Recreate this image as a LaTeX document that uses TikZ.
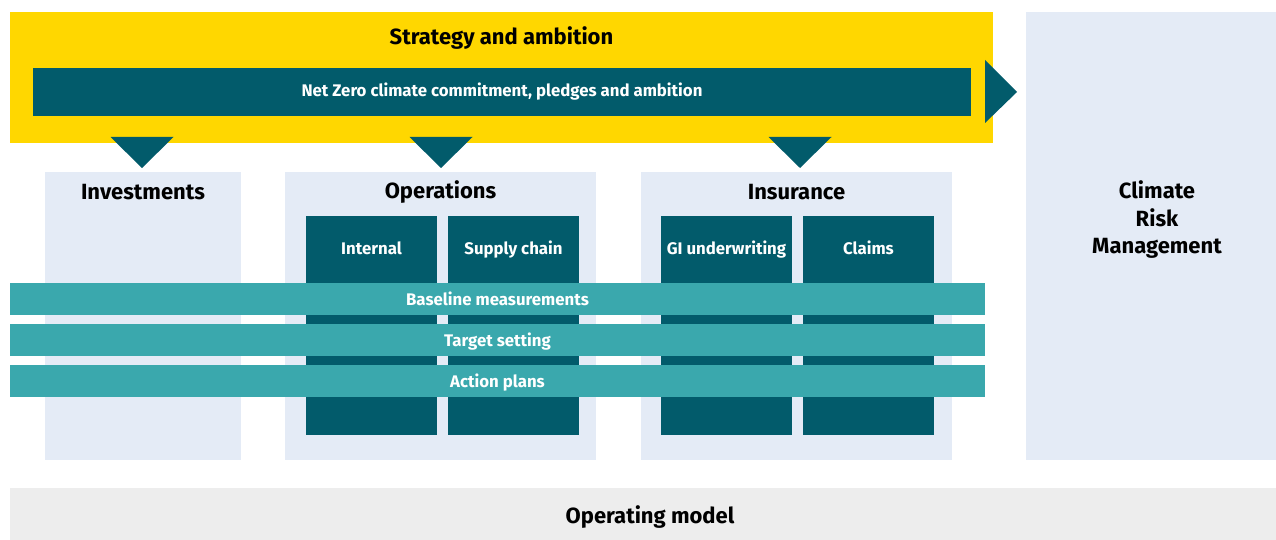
\documentclass[tikz,border=0pt]{standalone}
\usepackage{fontspec}
\setmainfont{Fira Sans}
\usetikzlibrary{positioning, calc}

\definecolor{ambition}{RGB}{255,215,0}
\definecolor{petrol}{RGB}{2,91,107}
\definecolor{lagoon}{RGB}{58,168,173}
\definecolor{mist}{RGB}{228,235,246}
\definecolor{floor}{RGB}{237,237,237}

\begin{document}
\begin{tikzpicture}[
  x=1pt, y=-1pt,
  blk/.style={inner sep=0pt, outer sep=0pt},
  panel/.style={blk, fill=mist, minimum height=288pt},
  unit/.style={blk, fill=petrol, minimum width=131pt, minimum height=219pt},
  layer/.style={blk, fill=lagoon, text=white, minimum width=975pt, minimum height=32pt,
                text height=13pt, text depth=0.5pt,
                font=\fontsize{16.8}{20}\selectfont\bfseries},
  head/.style={inner sep=0pt, font=\fontsize{22}{27.5}\selectfont\bfseries},
  unittext/.style={inner sep=0pt, text=white, text height=12.5pt, text depth=2pt,
                   font=\fontsize{16.8}{20}\selectfont\bfseries},
]
  \useasboundingbox (0,0) rectangle (1276,540);

  % right column and base
  \node[blk, fill=mist, minimum width=250pt, minimum height=448pt] (crm) at (1151,236) {};
  \node[head, align=center] (crm-t) at ($(crm)+(6,-16)$) {Climate\\Risk\\Management};
  \node[blk, fill=floor, minimum width=1266pt, minimum height=52pt] (opm) at (643,514) {};
  \node[head] (opm-t) at ($(opm)+(7,3)$) {Operating model};

  % business panels
  \node[panel, minimum width=196pt] (inv) at (143,316) {};
  \node[panel, minimum width=311pt] (ops) at (440.5,316) {};
  \node[panel, minimum width=311pt] (ins) at (796.5,316) {};
  \node[head] at ($(inv.north)+(0,20.5)$) {Investments};
  \node[head] at ($(ops.north)+(0,20.5)$) {Operations};
  \node[head] at ($(ins.north)+(0,20.5)$) {Insurance};

  % sub units
  \node[unit] (internal) at (371.5,325.5) {};
  \node[unit] (supply) at (513.5,325.5) {};
  \node[unit] (gi) at (726.5,325.5) {};
  \node[unit] (claims) at (868.5,325.5) {};
  \node[unittext] at ($(internal.north)+(0,33.5)$) {Internal};
  \node[unittext] at ($(supply.north)+(0,33.5)$) {Supply chain};
  \node[unittext] at ($(gi.north)+(0,33.5)$) {GI underwriting};
  \node[unittext] at ($(claims.north)+(0,33.5)$) {Claims};

  % cross-cutting layers
  \foreach \y/\txt [count=\i] in {299/Baseline measurements, 340/Target setting, 381/Action plans}
    \node[layer] (layer\i) at (497.5,\y) {\txt};

  % strategy band
  \node[blk, fill=ambition, minimum width=983pt, minimum height=131pt] (strat) at (501.5,77.5) {};
  \node[head] (strat-t) at (501.5,38) {Strategy and ambition};
  \node[blk, fill=petrol, text=white, minimum width=938pt, minimum height=48pt,
        font=\fontsize{16.8}{20}\selectfont\bfseries] (net) at (502,92)
        {Net Zero climate commitment, pledges and ambition};
  \fill[petrol] ($(net.east)+(14,-32)$) -- ($(net.east)+(46,0)$) -- ($(net.east)+(14,31)$) -- cycle;

  % down arrows into panels
  \foreach \p/\dx in {inv/-1, ops/0.5, ins/3.5}
    \fill[petrol] ($(\p.north)+(\dx-31.5,-35)$) -- ($(\p.north)+(\dx+31.5,-35)$)
      -- ($(\p.north)+(\dx,-4)$) -- cycle;
\end{tikzpicture}
\end{document}
